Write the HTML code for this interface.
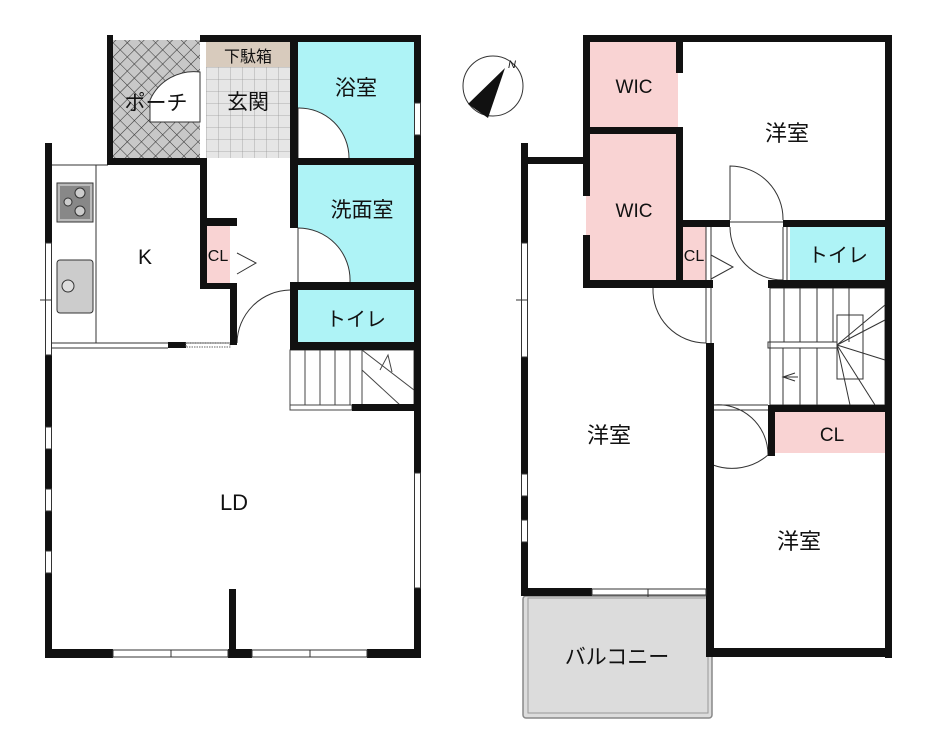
<!DOCTYPE html>
<html><head><meta charset="utf-8"><style>
html,body{margin:0;padding:0;background:#fff;}
svg{display:block;}
text{font-family:"Liberation Sans","Noto Sans CJK JP",sans-serif;fill:#111;}
</style></head><body>
<svg width="942" height="750" viewBox="0 0 942 750" xmlns="http://www.w3.org/2000/svg">
<defs>
<pattern id="hatch" width="10" height="10" patternUnits="userSpaceOnUse" patternTransform="rotate(45)">
<rect width="10" height="10" fill="#c8c8c8"/>
<path d="M0 0H10M0 0V10" stroke="#333" stroke-width="1.1"/>
</pattern>
<pattern id="grid" width="12" height="12" patternUnits="userSpaceOnUse" x="206" y="67">
<rect width="12" height="12" fill="#e6e6e6"/>
<path d="M0 0H12M0 0V12" stroke="#9a9a9a" stroke-width="0.8"/>
</pattern>
</defs>

<!-- ===== LEFT FLOOR ===== -->
<rect x="112" y="40" width="88" height="120" fill="url(#hatch)"/>
<path d="M150 100 A48 48 0 0 1 200 72 L200 122 L150 122 Z" fill="#fff" stroke="#333" stroke-width="1"/>
<rect x="206" y="42" width="84" height="25" fill="#d8cbbd"/>
<rect x="206" y="67" width="84" height="91" fill="url(#grid)"/>
<rect x="298" y="42" width="116" height="116" fill="#aef3f6"/>
<rect x="298" y="165" width="116" height="117" fill="#aef3f6"/>
<rect x="298" y="290" width="116" height="52" fill="#aef3f6"/>
<rect x="206" y="226" width="24" height="57" fill="#f9d3d3"/>

<path d="M298 158 L298 108 A50 50 0 0 1 349 158" fill="#fff" stroke="#333" stroke-width="1"/>
<path d="M298 282 L298 228 A52 52 0 0 1 350 282" fill="#fff" stroke="#333" stroke-width="1"/>
<path d="M237 343 A54 54 0 0 1 290 290" fill="none" stroke="#333" stroke-width="1"/>
<path d="M237 253 L256 263 L237 274" fill="none" stroke="#333" stroke-width="1"/>

<line x1="96" y1="165" x2="96" y2="343" stroke="#333" stroke-width="1"/>
<line x1="52" y1="165" x2="108" y2="165" stroke="#333" stroke-width="1"/>
<line x1="52" y1="343" x2="237" y2="343" stroke="#333" stroke-width="1"/>
<line x1="52" y1="348" x2="168" y2="348" stroke="#333" stroke-width="1"/>
<rect x="168" y="342" width="18" height="6" fill="#111"/>
<rect x="186" y="343" width="44" height="4" fill="none" stroke="#666" stroke-width="1" stroke-dasharray="1.5 1"/>
<rect x="57" y="183" width="36" height="39" fill="#bbb" stroke="#333"/>
<rect x="60" y="186" width="30" height="33" fill="#888"/>
<circle cx="80" cy="193" r="5" fill="#ccc" stroke="#333"/><circle cx="80" cy="211" r="5" fill="#ccc" stroke="#333"/><circle cx="68" cy="202" r="4" fill="#ccc" stroke="#333"/>
<rect x="57" y="260" width="36" height="53" rx="3" fill="#ccc" stroke="#333"/>
<circle cx="68" cy="286" r="6" fill="#ddd" stroke="#333"/>

<g stroke="#444" stroke-width="1" fill="none">
<rect x="290" y="350" width="124" height="55"/>
<line x1="305" y1="350" x2="305" y2="405"/><line x1="320" y1="350" x2="320" y2="405"/><line x1="335" y1="350" x2="335" y2="405"/><line x1="350" y1="350" x2="350" y2="405"/><line x1="362" y1="350" x2="362" y2="405"/>
<line x1="362" y1="350" x2="414" y2="390"/><line x1="362" y1="370" x2="400" y2="405"/>
<path d="M380 370 L388 355 L392 372"/>
<rect x="290" y="405" width="62" height="5"/>
</g>

<g fill="#111">
<rect x="107" y="35" width="6" height="125"/>
<rect x="200" y="35" width="220" height="7"/>
<rect x="414" y="35" width="7" height="68"/><rect x="414" y="135" width="7" height="215"/>
<rect x="107" y="158" width="100" height="7"/>
<rect x="290" y="158" width="131" height="7"/>
<rect x="290" y="35" width="8" height="123"/>
<rect x="290" y="158" width="8" height="70"/>
<rect x="290" y="282" width="131" height="8"/>
<rect x="290" y="342" width="131" height="8"/>
<rect x="290" y="290" width="8" height="52"/>
<rect x="200" y="158" width="7" height="129"/>
<rect x="200" y="218" width="37" height="8"/>
<rect x="200" y="283" width="30" height="6"/>
<rect x="230" y="283" width="7" height="62"/>
<rect x="45" y="143" width="7" height="100"/>
<rect x="45" y="355" width="7" height="72"/><rect x="45" y="449" width="7" height="40"/><rect x="45" y="511" width="7" height="40"/><rect x="45" y="573" width="7" height="85"/>
<rect x="414" y="350" width="7" height="123"/><rect x="414" y="588" width="7" height="70"/>
<rect x="352" y="404" width="69" height="7"/>
<rect x="45" y="649" width="68" height="9"/><rect x="228" y="649" width="24" height="9"/><rect x="367" y="649" width="54" height="9"/>
<rect x="229" y="589" width="7" height="62"/>
</g>
<g fill="#fff" stroke="#333" stroke-width="1">
<rect x="414.5" y="103" width="6" height="32"/>
<rect x="45.5" y="243" width="6" height="112"/>
<rect x="45.5" y="427" width="6" height="22"/><rect x="45.5" y="489" width="6" height="22"/><rect x="45.5" y="551" width="6" height="22"/>
<rect x="414.5" y="473" width="6" height="115"/>
<rect x="113" y="650" width="115" height="7"/><rect x="252" y="650" width="115" height="7"/>
</g>
<line x1="40" y1="300" x2="52" y2="300" stroke="#333"/>
<line x1="171" y1="650" x2="171" y2="657" stroke="#333"/><line x1="310" y1="650" x2="310" y2="657" stroke="#333"/>

<text x="156" y="110" font-size="21" text-anchor="middle">ポーチ</text>
<text x="248" y="62" font-size="16" text-anchor="middle">下駄箱</text>
<text x="248" y="109" font-size="21" text-anchor="middle">玄関</text>
<text x="356" y="95" font-size="21" text-anchor="middle">浴室</text>
<text x="362" y="217" font-size="21" text-anchor="middle">洗面室</text>
<text x="356" y="326" font-size="20" text-anchor="middle">トイレ</text>
<text x="145" y="264" font-size="21" text-anchor="middle">K</text>
<text x="218" y="261" font-size="16" text-anchor="middle">CL</text>
<text x="234" y="510" font-size="22" text-anchor="middle">LD</text>

<circle cx="493" cy="86" r="30" fill="#fff" stroke="#333" stroke-width="1"/>
<polygon points="505,68 468,104 488,118" fill="#111"/>
<text x="508" y="68" font-size="11" font-style="italic" font-family="Liberation Serif,serif">N</text>

<!-- ===== RIGHT FLOOR ===== -->
<rect x="590" y="42" width="88" height="85" fill="#f9d3d3"/>
<rect x="586" y="134" width="92" height="146" fill="#f9d3d3"/>
<rect x="683" y="227" width="23" height="53" fill="#f9d3d3"/>
<rect x="790" y="227" width="96" height="53" fill="#aef3f6"/>
<rect x="775" y="412" width="110" height="41" fill="#f9d3d3"/>
<rect x="523" y="596" width="189" height="122" rx="3" fill="#dcdcdc" stroke="#888" stroke-width="1.5"/>
<rect x="528" y="598" width="180" height="115" fill="none" stroke="#999" stroke-width="1"/>

<g stroke="#333" stroke-width="1" fill="none">
<path d="M730 220 L730 166 A53 53 0 0 1 783 220"/>
<path d="M730 227 A53 53 0 0 0 783 280"/>
<line x1="783" y1="227" x2="783" y2="280"/><line x1="787" y1="227" x2="787" y2="280"/>
<line x1="730" y1="222" x2="783" y2="222"/>
<line x1="706" y1="227" x2="706" y2="343"/><line x1="711" y1="227" x2="711" y2="343"/>
<path d="M711 255 L733 267 L711 279"/>
<path d="M653 288 A53 53 0 0 0 706 343"/>
<path d="M713 405 A50 50 0 0 1 768 455 A55 55 0 0 1 713 465"/>
<line x1="713" y1="405" x2="768" y2="405"/><line x1="713" y1="410" x2="768" y2="410"/>
<rect x="770" y="288" width="115" height="117"/>
<line x1="784" y1="288" x2="784" y2="342"/><line x1="800" y1="288" x2="800" y2="342"/><line x1="817" y1="288" x2="817" y2="342"/><line x1="833" y1="288" x2="833" y2="342"/><line x1="849" y1="288" x2="849" y2="342"/>
<rect x="768" y="342" width="69" height="6"/>
<rect x="837" y="315" width="26" height="64"/>
<line x1="783" y1="348" x2="783" y2="405"/><line x1="800" y1="348" x2="800" y2="405"/><line x1="817" y1="348" x2="817" y2="405"/>
<line x1="837" y1="345" x2="885" y2="305"/><line x1="837" y1="345" x2="885" y2="320"/><line x1="837" y1="345" x2="885" y2="360"/><line x1="837" y1="345" x2="875" y2="405"/><line x1="837" y1="345" x2="850" y2="405"/>
<path d="M795 373 L783 377 L795 381"/><line x1="783" y1="377" x2="798" y2="377"/>
</g>

<g fill="#111">
<rect x="583" y="35" width="309" height="7"/>
<rect x="583" y="35" width="7" height="161"/><rect x="583" y="235" width="7" height="52"/>
<rect x="676" y="42" width="7" height="31"/>
<rect x="583" y="127" width="100" height="7"/>
<rect x="676" y="127" width="7" height="160"/>
<rect x="885" y="35" width="7" height="623"/>
<rect x="683" y="220" width="47" height="7"/><rect x="783" y="220" width="109" height="7"/>
<rect x="583" y="280" width="130" height="8"/>
<rect x="768" y="280" width="124" height="8"/>
<rect x="521" y="157" width="62" height="7"/>
<rect x="521" y="143" width="7" height="100"/><rect x="521" y="357" width="7" height="117"/><rect x="521" y="496" width="7" height="24"/><rect x="521" y="542" width="7" height="54"/>
<rect x="521" y="588" width="71" height="8"/>
<rect x="706" y="343" width="8" height="313"/>
<rect x="706" y="648" width="186" height="9"/>
<rect x="768" y="405" width="124" height="7"/>
<rect x="768" y="405" width="7" height="51"/>
</g>
<g fill="#fff" stroke="#333" stroke-width="1">
<rect x="521.5" y="243" width="6" height="114"/>
<rect x="521.5" y="474" width="6" height="22"/><rect x="521.5" y="520" width="6" height="22"/>
<rect x="592" y="589" width="114" height="6"/>
</g>
<line x1="516" y1="300" x2="528" y2="300" stroke="#333"/>
<line x1="648" y1="589" x2="648" y2="597" stroke="#333"/>

<text x="634" y="93" font-size="19" text-anchor="middle">WIC</text>
<text x="634" y="217" font-size="19" text-anchor="middle">WIC</text>
<text x="787" y="141" font-size="22" text-anchor="middle">洋室</text>
<text x="694" y="261" font-size="16" text-anchor="middle">CL</text>
<text x="838" y="262" font-size="20" text-anchor="middle">トイレ</text>
<text x="832" y="441" font-size="19" text-anchor="middle">CL</text>
<text x="609" y="443" font-size="22" text-anchor="middle">洋室</text>
<text x="799" y="549" font-size="22" text-anchor="middle">洋室</text>
<text x="617" y="664" font-size="21" text-anchor="middle">バルコニー</text>
</svg>
</body></html>
